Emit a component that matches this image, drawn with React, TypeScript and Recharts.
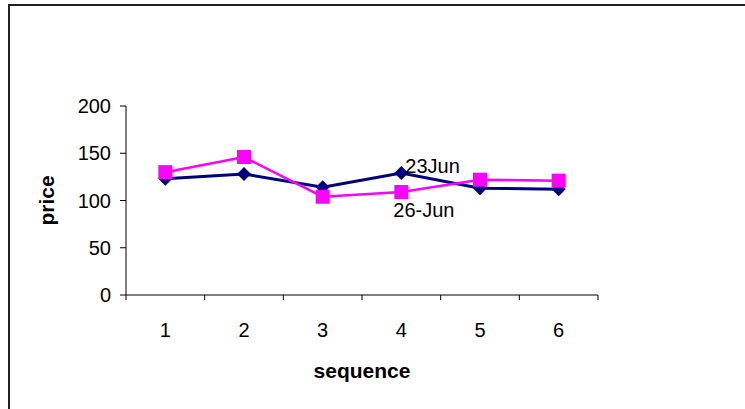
import React from "react";
import { LineChart, Line, XAxis, YAxis, LabelList } from "recharts";

const sequences = [1, 2, 3, 4, 5, 6];
const june23 = [123, 128, 114, 129, 113, 112];
const june26 = [130, 146, 104, 109, 122, 121];
const seriesNames = ["23Jun", "26-Jun"];
const xTicks = [0.5, 1, 1.5, 2, 2.5, 3, 3.5, 4, 4.5, 5, 5.5, 6, 6.5];
const yTicks = [0, 50, 100, 150, 200];
// the point that carries the series name labels
const labelIndex = 3;

const data = sequences.map((s, i) => ({ seq: s, a: june23[i], b: june26[i] }));

const font = "Arial, 'Liberation Sans', sans-serif";

const Diamond = (props: any) => {
  const { cx, cy } = props;
  if (cx == null || cy == null) return null;
  const r = 7;
  return (
    <polygon
      points={`${cx},${cy - r} ${cx + r},${cy} ${cx},${cy + r} ${cx - r},${cy}`}
      fill="#000080"
    />
  );
};

const Square = (props: any) => {
  const { cx, cy } = props;
  if (cx == null || cy == null) return null;
  const s = 7;
  return <rect x={cx - s} y={cy - s} width={s * 2} height={s * 2} fill="#FF00FF" />;
};

// ticks between categories get a tick mark, whole numbers get the label
const SeqTick = (props: any) => {
  const { x, y, payload } = props;
  const v = payload.value;
  if (Number.isInteger(v)) {
    return (
      <text x={x} y={y + 42} textAnchor="middle" fontSize={20} fontFamily={font} fill="#000">
        {v}
      </text>
    );
  }
  return <line x1={x} y1={y} x2={x} y2={y + 5} stroke="#000" />;
};

const nameLabel = (name: string, dx: number, dy: number) => (props: any) => {
  if (props.index !== labelIndex) return null;
  return (
    <text x={props.x + dx} y={props.y + dy} fontSize={20} fontFamily={font} fill="#000">
      {name}
    </text>
  );
};

const App = () => {
  return (
    <div
      style={{
        position: "absolute",
        left: 0,
        top: 0,
        width: 745,
        height: 409,
        overflow: "hidden",
        background: "#fff",
      }}
    >
      <div
        style={{
          position: "absolute",
          left: 8,
          top: 4,
          width: 760,
          height: 420,
          borderTop: "2px solid #222",
          borderLeft: "2px solid #222",
        }}
      />
      <div style={{ position: "absolute", left: 0, top: 0 }}>
        <LineChart
          width={745}
          height={409}
          data={data}
          margin={{ top: 106, right: 147, bottom: 54, left: 0 }}
        >
          <XAxis
            dataKey="seq"
            type="number"
            domain={[0.5, 6.5]}
            ticks={xTicks}
            interval={0}
            tickSize={0}
            tickMargin={0}
            tickLine={false}
            tick={<SeqTick />}
            height={60}
            axisLine={{ stroke: "#000" }}
            label={{
              value: "sequence",
              position: "bottom",
              offset: 8,
              style: { fontSize: 21, fontWeight: "bold", fontFamily: font, fill: "#000" },
            }}
          />
          <YAxis
            type="number"
            domain={[0, 200]}
            ticks={yTicks}
            interval={0}
            width={126}
            tickSize={6}
            tickMargin={9}
            axisLine={{ stroke: "#000" }}
            tickLine={{ stroke: "#000" }}
            tick={{ fontSize: 20, fontFamily: font, fill: "#000" }}
            label={{
              value: "price",
              angle: -90,
              position: "insideLeft",
              offset: 47,
              style: { textAnchor: "middle", fontSize: 21, fontWeight: "bold", fontFamily: font, fill: "#000" },
            }}
          />
          <Line
            dataKey="a"
            name={seriesNames[0]}
            stroke="#000080"
            strokeWidth={3}
            dot={<Diamond />}
            activeDot={false}
            isAnimationActive={false}
          >
            <LabelList dataKey="a" content={nameLabel(seriesNames[0], 4, 0)} />
          </Line>
          <Line
            dataKey="b"
            name={seriesNames[1]}
            stroke="#FF00FF"
            strokeWidth={2.5}
            dot={<Square />}
            activeDot={false}
            isAnimationActive={false}
          >
            <LabelList dataKey="b" content={nameLabel(seriesNames[1], -8, 25)} />
          </Line>
        </LineChart>
      </div>
    </div>
  );
};

export default App;
